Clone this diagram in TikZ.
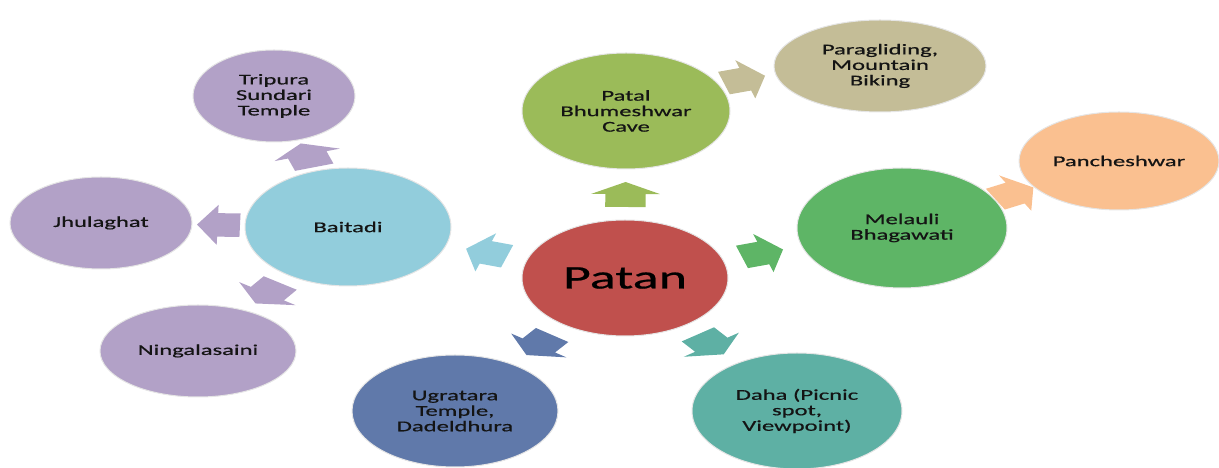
\documentclass[tikz,border=0pt]{standalone}
\usepackage{fontspec}
\setmainfont[FakeStretch=1.64,FakeBold=0.6]{Carlito}
\usetikzlibrary{shapes.geometric,calc}
\definecolor{Ink}{HTML}{141414}
\definecolor{PatanRed}{HTML}{C0504D}
\definecolor{PatalGreen}{HTML}{9BBB59}
\definecolor{ParaTan}{HTML}{C4BD97}
\definecolor{MelauliGreen}{HTML}{5EB566}
\definecolor{PanchOrange}{HTML}{FAC090}
\definecolor{DahaTeal}{HTML}{5EB0A4}
\definecolor{UgraBlue}{HTML}{6079AA}
\definecolor{BaitadiBlue}{HTML}{92CDDC}
\definecolor{PurpleLight}{HTML}{B2A1C7}

% block arrow between two places, drawn square and then stretched like the ellipses
\newcommand{\linkarrow}[4][xshift=0pt]{%
  \path (#2) -- coordinate[midway] (#2-#3) (#3);
  \path let \p1=($(#3)-(#2)$), \n1={atan2(\y1,\x1/1.72)} in
    ([#1]#2-#3) pic[xscale=1.72,rotate=\n1] {blockarrow=#4};}

\begin{document}
\begin{tikzpicture}[x=1pt,y=1pt,
  spot/.style={ellipse,inner sep=0pt,draw=black!10,line width=1pt,align=center,
    text=Ink,font=\fontsize{15}{15.5}\selectfont},
  blockarrow/.pic={\fill[#1] (-12.5,-11.75) -- (0.5,-11.75) -- (0.5,-20) -- (12.5,0)
    -- (0.5,20) -- (0.5,11.75) -- (-12.5,11.75) -- cycle;}]
\useasboundingbox (0,0) rectangle (1219,468);
\clip (0,0) rectangle (1219,468);
% centre
\node[spot,fill=PatanRed,minimum width=206,minimum height=116,text=black,
  font=\fontsize{33}{36}\selectfont] (patan) at (625,190) {Patan};
% right branch
\node[spot,fill=PatalGreen,minimum width=208,minimum height=116] (patal) at (626,357) {Patal\\Bhumeshwar\\Cave};
\node[spot,fill=ParaTan,minimum width=212,minimum height=92] (paraglide) at (880,402) {Paragliding,\\Mountain\\Biking};
\node[spot,fill=MelauliGreen,minimum width=210,minimum height=120] (melauli) at (902,240) {Melauli\\Bhagawati};
\node[spot,fill=PanchOrange,minimum width=200,minimum height=98] (pancheshwar) at (1119,307) {Pancheshwar};
\node[spot,fill=DahaTeal,minimum width=210,minimum height=116] (daha) at (797,57) {Daha (Picnic\\spot,\\Viewpoint)};
\node[spot,fill=UgraBlue,minimum width=206,minimum height=112] (ugratara) at (455,57) {Ugratara\\Temple,\\Dadeldhura};
% left branch
\node[spot,fill=BaitadiBlue,minimum width=206,minimum height=118] (baitadi) at (348,241) {Baitadi};
\node[spot,fill=PurpleLight,minimum width=162,minimum height=92] (tripura) at (274,372) {Tripura\\Sundari\\Temple};
\node[spot,fill=PurpleLight,minimum width=182,minimum height=92] (jhulaghat) at (101,245) {Jhulaghat};
\node[spot,fill=PurpleLight,minimum width=196,minimum height=92] (ningala) at (198,117) {Ningalasaini};
% arrows
\linkarrow{patan}{patal}{PatalGreen}
\linkarrow[xshift=-9pt,yshift=9pt]{patal}{paraglide}{ParaTan}
\linkarrow{patan}{melauli}{MelauliGreen}
\linkarrow{melauli}{pancheshwar}{PanchOrange}
\linkarrow{patan}{daha}{DahaTeal}
\linkarrow{patan}{ugratara}{UgraBlue}
\linkarrow{patan}{baitadi}{BaitadiBlue}
\linkarrow{baitadi}{tripura}{PurpleLight}
\linkarrow{baitadi}{jhulaghat}{PurpleLight}
\linkarrow{baitadi}{ningala}{PurpleLight}
\end{tikzpicture}
\end{document}
